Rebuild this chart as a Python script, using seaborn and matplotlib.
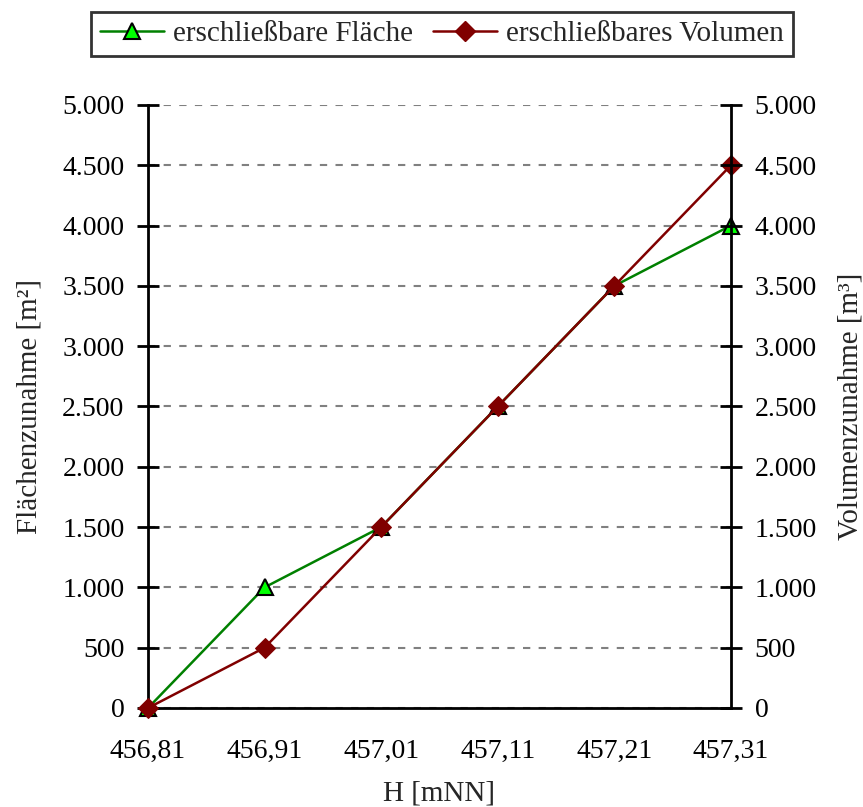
import matplotlib
matplotlib.use("Agg")
import matplotlib.pyplot as plt
import seaborn as sns
import pandas as pd
from matplotlib.ticker import FuncFormatter, MultipleLocator
from matplotlib.lines import Line2D

hoehe = [456.81, 456.91, 457.01, 457.11, 457.21, 457.31]
flaeche = [0, 1000, 1500, 2500, 3500, 4000]
volumen = [0, 500, 1500, 2500, 3500, 4500]

df = pd.DataFrame({"H": hoehe, "Flaeche": flaeche, "Volumen": volumen})

sns.set_style("white")
plt.rcParams["font.family"] = ["Liberation Serif", "DejaVu Serif"]
plt.rcParams["font.size"] = 20

fig = plt.figure(figsize=(8.63, 8.07), dpi=100)
ax = fig.add_axes([0.1715, 0.1227, 0.6755, 0.7473])

green = "#008000"
red = "#800000"

sns.lineplot(data=df, x="H", y="Flaeche", ax=ax, color=green, linewidth=1.8,
             marker="^", markersize=11, markerfacecolor="#00ff00",
             markeredgecolor="black", markeredgewidth=1.5, clip_on=False, zorder=3)
sns.lineplot(data=df, x="H", y="Volumen", ax=ax, color=red, linewidth=1.8,
             marker="D", markersize=10, markerfacecolor=red,
             markeredgecolor=red, clip_on=False, zorder=4)

fmt = FuncFormatter(lambda v, p: f"{int(v):,}".replace(",", "."))

ax.set_xlim(hoehe[0], hoehe[-1])
ax.set_ylim(0, 5000)
ax.set_xticks(hoehe)
ax.set_xticklabels([f"{h:.2f}".replace(".", ",") for h in hoehe])
ax.yaxis.set_major_locator(MultipleLocator(500))
ax.yaxis.set_major_formatter(fmt)
ax.grid(axis="y", color="#808080", linestyle=(0, (3.5, 4)), linewidth=1.5)
ax.grid(axis="x", visible=False)

ax2 = ax.twinx()
ax2.set_ylim(0, 5000)
ax2.yaxis.set_major_locator(MultipleLocator(500))
ax2.yaxis.set_major_formatter(fmt)
ax2.set_ylabel("Volumenzunahme [m³]", labelpad=15, fontsize=21)

for a in (ax, ax2):
    a.spines["top"].set_visible(False)
    for s in a.spines.values():
        s.set_linewidth(2)
        s.set_color("black")
    a.tick_params(direction="inout", length=16, width=2, colors="black",
                  labelsize=20, pad=9)
ax.tick_params(axis="x", pad=14)
ax2.spines["left"].set_visible(False)
ax2.spines["bottom"].set_visible(False)
ax.spines["right"].set_visible(False)

ax.set_xlabel("H [mNN]", labelpad=12, fontsize=21)
ax.set_ylabel("Flächenzunahme [m²]", labelpad=14, fontsize=21)

handles = [
    Line2D([], [], color=green, linewidth=1.8, marker="^", markersize=11,
           markerfacecolor="#00ff00", markeredgecolor="black", markeredgewidth=1.5),
    Line2D([], [], color=red, linewidth=1.8, marker="D", markersize=10,
           markerfacecolor=red, markeredgecolor=red),
]
leg = fig.legend(handles, ["erschließbare Fläche", "erschließbares Volumen"],
                 loc="center", bbox_to_anchor=(0.512, 0.958), ncol=2,
                 frameon=True, fancybox=False, edgecolor="black", fontsize=21,
                 handlelength=2.2, columnspacing=0.7, handletextpad=0.3,
                 borderpad=0.3)
leg.get_frame().set_linewidth(2)

fig.savefig("out.png", dpi=100)
